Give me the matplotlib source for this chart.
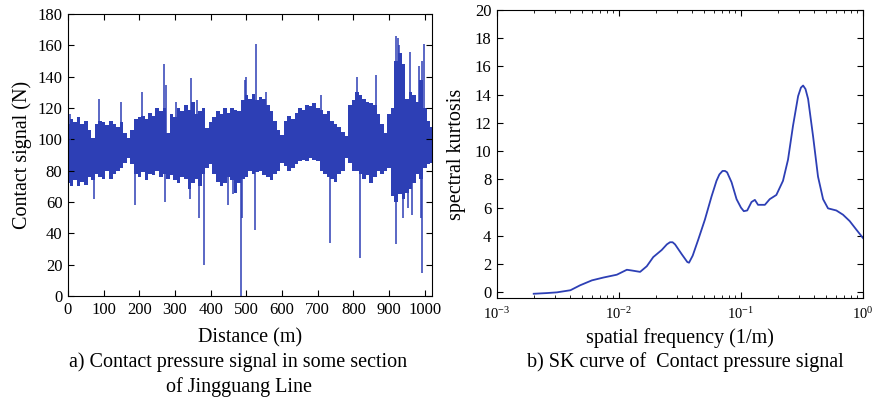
import numpy as np
import matplotlib
matplotlib.use("Agg")
import matplotlib.pyplot as plt

plt.rcParams['font.family'] = ['Liberation Serif', 'DejaVu Serif']
plt.rcParams['mathtext.fontset'] = 'custom'
plt.rcParams['mathtext.rm'] = 'Liberation Serif'
plt.rcParams['mathtext.it'] = 'Liberation Serif:italic'

# --- a) contact pressure signal, envelope read every 10 m ---
dist_step = 10
sig_hi = [110, 113, 111, 114, 110, 112, 106, 101, 110, 112,
          111, 109, 112, 110, 108, 111, 104, 101, 106, 113,
          114, 115, 113, 117, 115, 120, 118, 120, 104, 116,
          114, 120, 118, 122, 119, 124, 116, 118, 120, 107,
          111, 114, 118, 116, 120, 117, 120, 119, 118, 125,
          128, 126, 129, 125, 127, 126, 122, 118, 112, 106,
          103, 112, 115, 113, 117, 120, 119, 122, 121, 123,
          120, 119, 116, 118, 112, 110, 108, 105, 102, 122,
          125, 130, 128, 126, 124, 123, 122, 116, 110, 104,
          116, 120, 150, 155, 148, 126, 130, 128, 124, 138,
          120, 112, 108]
sig_lo = [72, 70, 74, 70, 73, 71, 76, 74, 78, 76,
          75, 80, 75, 78, 80, 82, 85, 88, 84, 78,
          76, 79, 74, 78, 77, 80, 76, 78, 75, 77,
          74, 72, 76, 75, 68, 72, 75, 70, 78, 82,
          84, 78, 73, 70, 72, 76, 74, 66, 72, 75,
          76, 80, 78, 79, 80, 77, 76, 74, 78, 80,
          85, 83, 80, 82, 84, 86, 87, 86, 88, 87,
          86, 80, 78, 76, 75, 73, 78, 80, 88, 85,
          80, 80, 78, 75, 77, 72, 76, 80, 78, 80,
          82, 64, 60, 65, 62, 66, 68, 72, 78, 75,
          82, 84, 85]

# isolated spikes (distance m, force N)
spike_x = [5, 86, 148, 208, 268, 275, 304, 346, 362, 495, 500, 528, 556,
           710, 810, 864, 918, 924, 928, 958, 984, 991, 997,
           72, 187, 271, 343, 367, 381, 449, 463, 486, 489, 525,
           734, 818, 920, 939, 954, 963, 988, 993]
spike_y = [116, 126, 124, 130, 148, 135, 124, 139, 125, 138, 140, 161, 130,
           128, 140, 141, 166, 165, 160, 156, 147, 150, 161,
           62, 58, 60, 62, 50, 20, 58, 65, 0, 50, 42,
           34, 24, 33, 50, 56, 52, 50, 15]

# --- b) SK curve ---
sk_freq = [0.002, 0.00257, 0.0031, 0.004, 0.0048, 0.006, 0.00746, 0.0096,
           0.0116, 0.0127, 0.0149, 0.0169, 0.0191, 0.0224, 0.0247, 0.0262, 0.0275, 0.0288,
           0.0327, 0.0363, 0.0375, 0.0402, 0.0447, 0.0506, 0.0574, 0.063, 0.0665, 0.0706,
           0.074, 0.077, 0.0837, 0.092, 0.1, 0.1055, 0.1125, 0.122, 0.13, 0.138, 0.157,
           0.172, 0.195, 0.221, 0.243, 0.267, 0.294, 0.31, 0.323, 0.338, 0.355, 0.39,
           0.428, 0.471, 0.517, 0.605, 0.686, 0.778, 0.881, 1.0]
sk_val = [-0.1, -0.05, 0.0, 0.15, 0.5, 0.85, 1.05, 1.25,
          1.6, 1.55, 1.45, 1.85, 2.5, 3.0, 3.4, 3.55, 3.55, 3.4,
          2.7, 2.15, 2.1, 2.6, 3.75, 5.15, 6.8, 7.9, 8.35, 8.6,
          8.6, 8.5, 7.8, 6.6, 6.0, 5.75, 5.8, 6.4, 6.55, 6.2, 6.2,
          6.6, 6.9, 7.9, 9.4, 11.8, 13.9, 14.5, 14.65, 14.4, 13.7, 11.05,
          8.2, 6.6, 5.95, 5.8, 5.5, 5.05, 4.45, 3.85]

blue = '#2d3fb5'

dist = np.arange(len(sig_hi)) * dist_step

fig = plt.figure(figsize=(8.77, 4.0), dpi=100)

ax1 = fig.add_axes([0.0775, 0.26, 0.415, 0.705])
ax1.fill_between(dist, sig_lo, sig_hi, step='mid', color=blue, lw=0)
ax1.vlines(spike_x, 95, spike_y, color=blue, lw=1.1)
ax1.set_xlim(0, 1020)
ax1.set_ylim(0, 180)
ax1.set_xticks(np.arange(0, 1001, 100))
ax1.set_yticks(np.arange(0, 181, 20))
ax1.tick_params(direction='in', top=True, right=True, labelsize=12, length=4, pad=4)
ax1.set_xlabel('Distance (m)', fontsize=14.5, labelpad=8)
ax1.set_ylabel('Contact signal (N)', fontsize=14.5, labelpad=4)

ax2 = fig.add_axes([0.5667, 0.255, 0.4173, 0.72])
ax2.semilogx(sk_freq, sk_val, color=blue, lw=1.3)
ax2.set_xlim(1e-3, 1)
ax2.set_ylim(-0.4, 20)
ax2.set_yticks(np.arange(0, 21, 2))
ax2.tick_params(which='both', direction='in', top=True, right=True, labelsize=12, pad=4)
ax2.tick_params(axis='x', which='major', labelsize=10.5, pad=6)
ax2.tick_params(which='major', length=4)
ax2.tick_params(which='minor', length=2)
ax2.set_xlabel('spatial frequency (1/m)', fontsize=14.5, labelpad=4)
ax2.set_ylabel('spectral kurtosis', fontsize=14.5, labelpad=6)

fig.text(0.272, 0.095, 'a) Contact pressure signal in some section', ha='center', va='center', fontsize=14.5)
fig.text(0.272, 0.033, 'of Jingguang Line', ha='center', va='center', fontsize=14.5)
fig.text(0.781, 0.095, 'b) SK curve of  Contact pressure signal', ha='center', va='center', fontsize=14.5)

fig.savefig('out.png', dpi=100)
